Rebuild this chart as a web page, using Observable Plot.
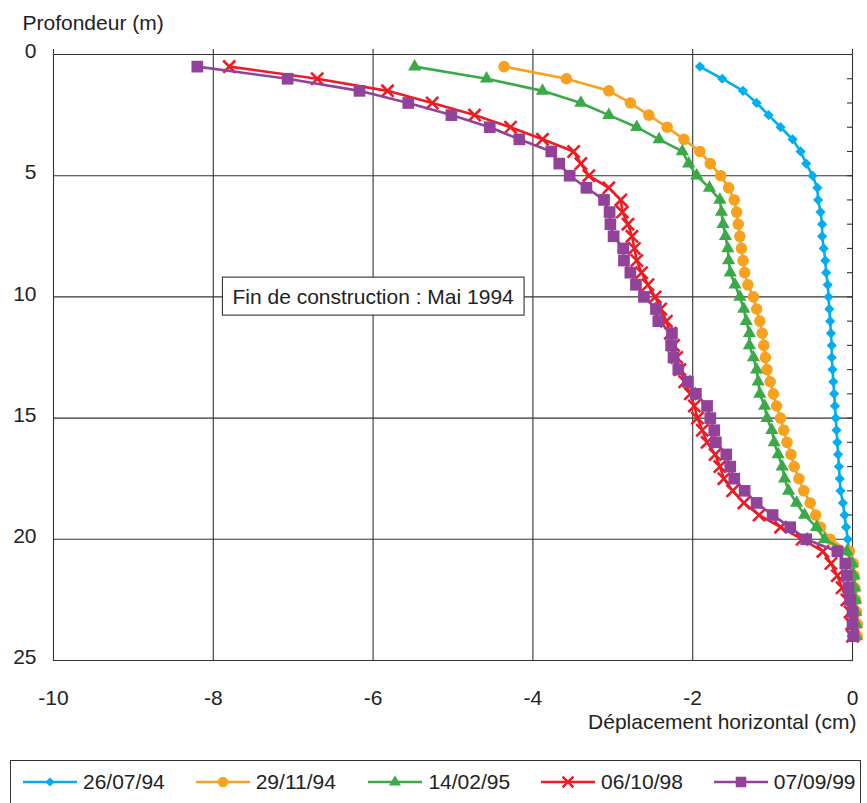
<!DOCTYPE html>
<html>
<head>
<meta charset="utf-8">
<script src="https://cdn.jsdelivr.net/npm/d3@7"></script>
<script src="https://cdn.jsdelivr.net/npm/@observablehq/plot@0.6"></script>
<style>
  html, body { margin: 0; padding: 0; background: #fff; }
  #wrap { position: relative; width: 867px; height: 803px; overflow: hidden; font-family: "Liberation Sans", Arial, Helvetica, sans-serif; color: #222; }
  #chart { position: absolute; left: 0; top: 0; }
  #legend { position: absolute; left: 10px; top: 760px; width: 851px; height: 50px; border: 1px solid #333; box-sizing: border-box; }
  .item { position: absolute; top: 9px; height: 24px; display: flex; align-items: center; font-size: 21px; white-space: nowrap; }
  .item svg { margin-right: 6px; }
</style>
</head>
<body>
<div id="wrap">
  <div id="chart"></div>
  <div id="legend"></div>
</div>
<script>
// ---- data ----
const depths = [0.5, 1, 1.5, 2, 2.5, 3, 3.5, 4, 4.5, 5, 5.5, 6, 6.5, 7, 7.5, 8, 8.5, 9, 9.5, 10,
  10.5, 11, 11.5, 12, 12.5, 13, 13.5, 14, 14.5, 15, 15.5, 16, 16.5, 17, 17.5, 18, 18.5, 19, 19.5, 20,
  20.5, 21, 21.5, 22, 22.5, 23, 23.5, 24];

const d260794 = [-1.91, -1.63, -1.37, -1.20, -1.05, -0.90, -0.75, -0.65, -0.58, -0.50, -0.44, -0.43, -0.40, -0.38, -0.38, -0.36, -0.34, -0.33, -0.31, -0.30,
  -0.29, -0.28, -0.27, -0.26, -0.26, -0.25, -0.24, -0.23, -0.22, -0.21, -0.20, -0.19, -0.18, -0.17, -0.16, -0.15, -0.12, -0.10, -0.08, -0.06,
  -0.04, -0.02, 0.0, 0.0, 0.0, 0.01, 0.01, 0.01];

const d291194 = [-4.36, -3.58, -3.05, -2.78, -2.55, -2.32, -2.11, -1.91, -1.78, -1.65, -1.55, -1.48, -1.45, -1.43, -1.41, -1.39, -1.37, -1.35, -1.31, -1.24,
  -1.20, -1.16, -1.13, -1.11, -1.09, -1.07, -1.03, -0.99, -0.95, -0.90, -0.86, -0.82, -0.77, -0.73, -0.67, -0.61, -0.53, -0.46, -0.40, -0.28,
  -0.04, 0.01, 0.02, 0.03, 0.04, 0.05, 0.06, 0.06];

const d140295 = [-5.48, -4.58, -3.88, -3.40, -3.05, -2.70, -2.42, -2.13, -2.05, -1.95, -1.79, -1.66, -1.64, -1.62, -1.59, -1.56, -1.55, -1.53, -1.47, -1.41,
  -1.36, -1.33, -1.29, -1.29, -1.24, -1.20, -1.18, -1.16, -1.10, -1.07, -1.01, -0.98, -0.93, -0.88, -0.85, -0.80, -0.70, -0.60, -0.45, -0.35,
  -0.07, 0.0, 0.02, 0.03, 0.04, 0.04, 0.05, 0.05];

const d061098 = [-7.80, -6.70, -5.82, -5.26, -4.73, -4.28, -3.88, -3.49, -3.40, -3.30, -3.05, -2.90, -2.88, -2.81, -2.76, -2.73, -2.70, -2.64, -2.56, -2.47,
  -2.40, -2.33, -2.28, -2.24, -2.20, -2.16, -2.10, -2.03, -1.98, -1.94, -1.88, -1.82, -1.72, -1.66, -1.61, -1.50, -1.36, -1.17, -0.90, -0.63,
  -0.37, -0.27, -0.19, -0.13, -0.07, -0.03, -0.01, 0.0];

const d070999 = [-8.20, -7.07, -6.17, -5.56, -5.02, -4.54, -4.17, -3.77, -3.67, -3.54, -3.33, -3.11, -3.04, -3.03, -2.99, -2.87, -2.86, -2.78, -2.71, -2.61,
  -2.46, -2.43, -2.26, -2.27, -2.24, -2.18, -2.06, -1.96, -1.82, -1.78, -1.73, -1.71, -1.58, -1.53, -1.48, -1.35, -1.20, -1.00, -0.78, -0.58,
  -0.19, -0.09, -0.07, -0.05, -0.03, 0.0, 0.0, 0.01];

const seriesNames = ["26/07/94", "29/11/94", "14/02/95", "06/10/98", "07/09/99"];
const seriesValues = [d260794, d291194, d140295, d061098, d070999];

const xTicks = [-10, -8, -6, -4, -2, 0];
const yTicks = [0, 5, 10, 15, 20, 25];
const yMinorTicks = [0, 1, 2, 3, 4, 5, 6, 7, 8, 9, 10, 11, 12, 13, 14, 15, 16, 17, 18, 19, 20, 21, 22, 23, 24, 25];

const yTitle = "Profondeur (m)";
const xTitle = "Déplacement horizontal (cm)";
const annotation = {x: -6, y: 10, text: "Fin de construction : Mai 1994"};

// ---- styles ----
const styles = [
  {color: "#00AEEF", symbol: "diamond2", r: 4.6, filled: true},
  {color: "#F8A11E", symbol: "circle", r: 5.8, filled: true},
  {color: "#3AAA49", symbol: "triangle", r: 4.9, filled: true},
  {color: "#ED1C24", symbol: "times", r: 5.6, filled: false},
  {color: "#93429A", symbol: "square", r: 6.6, filled: true}
];

const series = seriesNames.map((name, i) => ({
  name,
  ...styles[i],
  data: depths.map((d, j) => ({depth: d, disp: seriesValues[i][j]}))
}));

const gridColor = "#333";
const font = "'Liberation Sans', Arial, Helvetica, sans-serif";

const marks = [
  Plot.gridY(yTicks, {stroke: gridColor, strokeOpacity: 1, strokeWidth: 1.1}),
  Plot.gridX(xTicks, {stroke: gridColor, strokeOpacity: 1, strokeWidth: 1.1}),
  Plot.axisX({anchor: "top", ticks: xTicks, tickSize: 6, tickFormat: () => "", label: null, stroke: gridColor, strokeWidth: 1.1}),
  Plot.axisY({anchor: "right", ticks: yMinorTicks, tickSize: 6, dx: -6, tickFormat: () => "", label: null, stroke: gridColor, strokeWidth: 1.1}),
  Plot.axisX({anchor: "bottom", ticks: xTicks, tickSize: 0, tickPadding: 30, fontSize: 21, label: null, tickFormat: d => String(d), fill: "#222"}),
  Plot.axisY({anchor: "left", ticks: yTicks, tickSize: 0, tickPadding: 17, dy: -3, fontSize: 21, label: null, tickFormat: d => String(d), fill: "#222"}),
  Plot.text([annotation], {x: "x", y: "y", text: "text", fontSize: 21, fill: "#222"}),
  Plot.text([yTitle], {frameAnchor: "top-left", text: d => d, textAnchor: "start", lineAnchor: "middle", dx: -31, dy: -31, fontSize: 21, fill: "#222"}),
  Plot.text([xTitle], {frameAnchor: "bottom-right", text: d => d, textAnchor: "end", lineAnchor: "middle", dx: 4, dy: 62, fontSize: 21, fill: "#222"})
];

for (const s of series) {
  marks.push(Plot.line(s.data, {x: "disp", y: "depth", stroke: s.color, strokeWidth: 2.6}));
  if (s.filled) {
    marks.push(Plot.dot(s.data, {x: "disp", y: "depth", symbol: s.symbol, r: s.r, fill: s.color, stroke: "none"}));
  } else {
    marks.push(Plot.dot(s.data, {x: "disp", y: "depth", symbol: s.symbol, r: s.r, fill: "none", stroke: s.color, strokeWidth: 2.6}));
  }
}

const chart = Plot.plot({
  width: 867,
  height: 750,
  marginLeft: 53,
  marginRight: 15,
  marginTop: 54,
  marginBottom: 90,
  style: {fontFamily: font, fontSize: "21px", background: "white", color: "#222", overflow: "visible"},
  x: {domain: [-10, 0]},
  y: {domain: [0, 25], reverse: true},
  marks
});

document.getElementById("chart").appendChild(chart);

// white box behind the annotation
const annText = Array.from(chart.querySelectorAll("text")).find(t => t.textContent === annotation.text);
if (annText) {
  const bb = annText.getBBox();
  const rect = document.createElementNS("http://www.w3.org/2000/svg", "rect");
  const cy = bb.y + bb.height / 2;
  rect.setAttribute("x", bb.x - 10);
  rect.setAttribute("y", cy - 19);
  rect.setAttribute("width", bb.width + 20);
  rect.setAttribute("height", 38);
  rect.setAttribute("fill", "white");
  rect.setAttribute("stroke", "#333");
  rect.setAttribute("stroke-width", 1.1);
  const tr = annText.getAttribute("transform");
  if (tr) rect.setAttribute("transform", tr);
  annText.parentNode.insertBefore(rect, annText);
}

// ---- legend ----
const legend = d3.select("#legend");
const symMap = {diamond2: d3.symbolDiamond2, circle: d3.symbolCircle, triangle: d3.symbolTriangle, times: d3.symbolTimes, square: d3.symbolSquare};
series.forEach((s, i) => {
  const item = legend.append("div").attr("class", "item").style("left", (12 + i * 172.7) + "px");
  const sw = item.append("svg").attr("width", 54).attr("height", 20);
  sw.append("line").attr("x1", 0).attr("x2", 54).attr("y1", 10).attr("y2", 10)
    .attr("stroke", s.color).attr("stroke-width", 2.6);
  const rr = s.r * 0.9;
  const path = d3.symbol(symMap[s.symbol], rr * rr * Math.PI)();
  const p = sw.append("path").attr("d", path).attr("transform", "translate(27,10)");
  if (s.filled) p.attr("fill", s.color);
  else p.attr("fill", "none").attr("stroke", s.color).attr("stroke-width", 2.4);
  item.append("span").text(s.name);
});
</script>
</body>
</html>
